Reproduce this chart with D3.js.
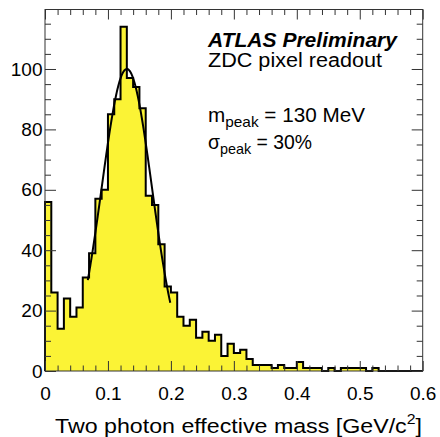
<!DOCTYPE html>
<html><head><meta charset="utf-8">
<script src="https://cdn.jsdelivr.net/npm/d3@7"></script>
<style>
html,body{margin:0;padding:0;background:#fff;}
svg{display:block;font-family:"Liberation Sans",Arial,Helvetica,sans-serif;}
</style>
</head><body>
<svg id="chart" width="440" height="437"></svg>
<script>
// ---- data ----
const binLow = 0.0;
const binWidth = 0.01;
const counts = [56,26,14,24,18,21,31,39,57,60,
                85,90,114,97,94,87,58,55,42,28,
                26,18,15,17,11,13,10,12,5,9,
                6,7,4,2,2,2,1,2,1,1,
                3,1,1,1,0,1,0,1,1,1,
                1,0,1,0,0,0,0,0,0,0];
const fitAmp = 100;
const fitMean = 0.13;
const fitSigma = 0.04;
const fitRange = [0.068, 0.199];
const xMajorTicks = [0, 0.1, 0.2, 0.3, 0.4, 0.5, 0.6];
const xTickLabels = ["0", "0.1", "0.2", "0.3", "0.4", "0.5", "0.6"];
const yMajorTicks = [0, 20, 40, 60, 80, 100];
const yTickLabels = ["0", "20", "40", "60", "80", "100"];
const xDomain = [0, 0.6];
const yDomain = [0, 119.7];

// ---- layout ----
const L = 45, R = 422.7, T = 9.5, B = 371;
const svg = d3.select("#chart");
const x = d3.scaleLinear().domain(xDomain).range([L, R]);
const y = d3.scaleLinear().domain(yDomain).range([B, T]);

// histogram fill + outline
const bins = counts.map((c, i) => ({lo: binLow + i*binWidth, hi: binLow + (i+1)*binWidth, c}));
const stepPts = [[bins[0].lo, 0]];
bins.forEach(b => { stepPts.push([b.lo, b.c]); stepPts.push([b.hi, b.c]); });
stepPts.push([bins[bins.length-1].hi, 0]);
const line = d3.line().x(d => x(d[0])).y(d => y(d[1]));
svg.append("path").attr("d", line(stepPts) + "Z").attr("fill", "#fbf335").attr("stroke", "none");
svg.append("path").attr("d", line(stepPts)).attr("fill", "none").attr("stroke", "#000").attr("stroke-width", 2).attr("stroke-linejoin", "miter");

// gaussian fit
const gauss = v => fitAmp * Math.exp(-0.5 * Math.pow((v - fitMean)/fitSigma, 2));
const fx = d3.range(0, 201).map(k => fitRange[0] + (fitRange[1]-fitRange[0])*k/200);
svg.append("path").attr("d", d3.line().x(v => x(v)).y(v => y(gauss(v)))(fx))
  .attr("fill", "none").attr("stroke", "#000").attr("stroke-width", 2);

// axes
const tickCol = "#333";
const xMinor = d3.range(0, 31).map(k => k*0.02).filter(v => !xMajorTicks.some(m => Math.abs(m-v) < 1e-9));
const yMinor = d3.range(0, 24).map(k => k*5).filter(v => v % 20 !== 0);
function style(g){ g.select(".domain").remove(); g.selectAll("line").attr("stroke", tickCol); g.selectAll("text").attr("fill","#000"); }

svg.append("g").attr("transform", `translate(0,${B})`)
  .call(d3.axisBottom(x).tickValues(xMajorTicks).tickFormat((d,i)=>xTickLabels[i]).tickSizeInner(-10).tickSizeOuter(0).tickPadding(16))
  .call(style).call(g => g.selectAll("text").attr("font-size", 19).attr("font-family", null));
svg.append("g").attr("transform", `translate(0,${B})`)
  .call(d3.axisBottom(x).tickValues(xMinor).tickFormat("").tickSizeInner(-5.5).tickSizeOuter(0)).call(style);
svg.append("g").attr("transform", `translate(0,${T})`)
  .call(d3.axisTop(x).tickValues(xMajorTicks).tickFormat("").tickSizeInner(-10).tickSizeOuter(0)).call(style);
svg.append("g").attr("transform", `translate(0,${T})`)
  .call(d3.axisTop(x).tickValues(xMinor).tickFormat("").tickSizeInner(-5.5).tickSizeOuter(0)).call(style);

svg.append("g").attr("transform", `translate(${L},0)`)
  .call(d3.axisLeft(y).tickValues(yMajorTicks).tickFormat((d,i)=>yTickLabels[i]).tickSizeInner(-11).tickSizeOuter(0).tickPadding(2.5))
  .call(style).call(g => g.selectAll("text").attr("font-size", 19).attr("font-family", null));
svg.append("g").attr("transform", `translate(${L},0)`)
  .call(d3.axisLeft(y).tickValues(yMinor).tickFormat("").tickSizeInner(-6).tickSizeOuter(0)).call(style);
svg.append("g").attr("transform", `translate(${R},0)`)
  .call(d3.axisRight(y).tickValues(yMajorTicks).tickFormat("").tickSizeInner(-11).tickSizeOuter(0)).call(style);
svg.append("g").attr("transform", `translate(${R},0)`)
  .call(d3.axisRight(y).tickValues(yMinor).tickFormat("").tickSizeInner(-6).tickSizeOuter(0)).call(style);

// frame
svg.append("rect").attr("x", L).attr("y", T).attr("width", R-L).attr("height", B-T)
  .attr("fill", "none").attr("stroke", tickCol).attr("stroke-width", 1);

// x title
const xt = svg.append("text").attr("x", 55).attr("y", 432.5).attr("font-size", 20.5)
  .attr("textLength", 367).attr("lengthAdjust", "spacingAndGlyphs");
xt.append("tspan").text("Two photon effective mass [GeV/c");
xt.append("tspan").attr("font-size", 14).attr("dy", -8.5).text("2");
xt.append("tspan").attr("dy", 8.5).text("]");

// annotations
svg.append("text").attr("x", 208).attr("y", 46.5).attr("font-size", 19.5).attr("font-weight", "bold").attr("font-style", "italic")
  .attr("textLength", 189).attr("lengthAdjust", "spacingAndGlyphs").text("ATLAS Preliminary");
svg.append("text").attr("x", 208).attr("y", 67).attr("font-size", 19.5)
  .attr("textLength", 174).attr("lengthAdjust", "spacingAndGlyphs").text("ZDC pixel readout");
const m = svg.append("text").attr("x", 208).attr("y", 122).attr("font-size", 19.5)
  .attr("textLength", 157).attr("lengthAdjust", "spacingAndGlyphs");
m.append("tspan").text("m");
m.append("tspan").attr("font-size", 14.5).attr("dy", 5).text("peak");
m.append("tspan").attr("dy", -5).text(" = 130 MeV");
const s = svg.append("text").attr("x", 208).attr("y", 149).attr("font-size", 19.5)
  .attr("textLength", 104).attr("lengthAdjust", "spacingAndGlyphs");
s.append("tspan").text("σ");
s.append("tspan").attr("font-size", 14.5).attr("dy", 5).text("peak");
s.append("tspan").attr("dy", -5).text(" = 30%");
</script>
</body></html>
